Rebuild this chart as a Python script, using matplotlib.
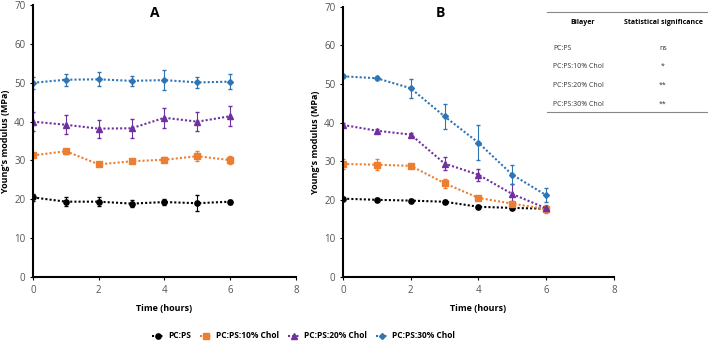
import numpy as np
import matplotlib.pyplot as plt
from matplotlib.lines import Line2D

plt.rcParams['font.family'] = ['Open Sans', 'DejaVu Sans']

hours = [0, 1, 2, 3, 4, 5, 6]
labels = ["PC:PS", "PC:PS:10% Chol", "PC:PS:20% Chol", "PC:PS:30% Chol"]

# panel A
a_vals = [
    [20.5, 19.4, 19.4, 18.9, 19.3, 19.0, 19.4],
    [31.3, 32.4, 29.0, 29.8, 30.2, 31.1, 30.1],
    [40.0, 39.2, 38.2, 38.3, 41.0, 40.0, 41.4],
    [50.0, 50.8, 50.9, 50.5, 50.7, 50.1, 50.3],
]
a_err = [
    [0.8, 1.2, 1.1, 0.9, 0.7, 2.1, 0.5],
    [0.5, 0.6, 0.5, 0.5, 0.6, 1.3, 1.0],
    [2.4, 2.5, 2.3, 2.4, 2.6, 2.5, 2.6],
    [1.5, 1.5, 1.8, 1.2, 2.5, 1.5, 2.0],
]

# panel B
b_vals = [
    [20.3, 20.0, 19.8, 19.5, 18.2, 17.9, 17.7],
    [29.3, 29.1, 28.8, 24.3, 20.5, 19.0, 17.6],
    [39.4, 37.9, 36.9, 29.4, 26.5, 21.5, 17.8],
    [52.0, 51.5, 48.9, 41.6, 34.8, 26.5, 21.2],
]
b_err = [
    [0.4, 0.4, 0.3, 0.4, 0.4, 0.4, 0.3],
    [1.3, 1.5, 0.4, 1.2, 0.5, 0.8, 1.0],
    [0.6, 0.5, 0.4, 1.8, 1.5, 2.5, 0.6],
    [0.5, 0.5, 2.5, 3.2, 4.5, 2.5, 1.8],
]

sig_rows = ["PC:PS", "PC:PS:10% Chol", "PC:PS:20% Chol", "PC:PS:30% Chol"]
sig_vals = ["ns", "*", "**", "**"]

colors = ["black", "#ED7D31", "#7030A0", "#2E75B6"]
markers = ["o", "s", "^", "D"]
msizes = [3.8, 3.8, 3.8, 3.0]
dots = (0, (1.0, 1.0))

fig = plt.figure(figsize=(7.09, 3.42), dpi=100)
axA = fig.add_axes([0.0465, 0.19, 0.371, 0.795])
axB = fig.add_axes([0.4838, 0.19, 0.382, 0.79])

for ax, vals, errs in [(axA, a_vals, a_err), (axB, b_vals, b_err)]:
    for i in range(4):
        ax.errorbar(hours, vals[i], yerr=errs[i], color=colors[i],
                    marker=markers[i], ms=msizes[i], ls=dots,
                    lw=1.5, elinewidth=0.8, capsize=1.5)
    ax.set_xlim(0, 8)
    ax.set_ylim(0, 70)
    ax.set_xticks([0, 2, 4, 6, 8])
    ax.set_yticks(range(0, 71, 10))
    ax.spines['top'].set_visible(False)
    ax.spines['right'].set_visible(False)
    ax.spines['left'].set_linewidth(1.5)
    ax.spines['bottom'].set_linewidth(1.5)
    ax.tick_params(labelsize=7, labelcolor='#555555', color='black', length=2)
    ax.set_xlabel("Time (hours)", fontsize=6.5, fontweight='bold', labelpad=6)
    ax.set_ylabel("Young's modulus (MPa)", fontsize=6.5, fontweight='bold', labelpad=3)

fig.text(155 / 709, 1 - 13 / 342, "A", fontsize=10, fontweight='bold', ha='center', va='center')
fig.text(440 / 709, 1 - 13 / 342, "B", fontsize=10, fontweight='bold', ha='center', va='center')

# significance table
tx0, tx1 = 547 / 709, 707 / 709
for yy in [12, 112]:
    fig.add_artist(Line2D([tx0, tx1], [1 - yy / 342] * 2, color='#888888', lw=0.8))
fig.text(583 / 709, 1 - 22 / 342, "Bilayer", fontsize=5, fontweight='bold', ha='center', va='center')
fig.text(663 / 709, 1 - 22 / 342, "Statistical significance", fontsize=5, fontweight='bold', ha='center', va='center')
for k, (r, s) in enumerate(zip(sig_rows, sig_vals)):
    yy = 1 - (48 + 18.7 * k) / 342
    fig.text(553 / 709, yy, r, fontsize=5, ha='left', va='center', color='#333333')
    fig.text(663 / 709, yy, s, fontsize=5, ha='center', va='center', color='#333333')

handles = [Line2D([], [], color=colors[i], marker=markers[i], ms=msizes[i], ls=dots, lw=1.5)
           for i in range(4)]
fig.legend(handles=handles, labels=labels, loc='center', bbox_to_anchor=(0.428, 1 - 336 / 342),
           ncol=4, frameon=False, handlelength=1.5, handletextpad=0.5, columnspacing=1.0,
           prop={'weight': 'bold', 'size': 6})

fig.savefig("out.png", dpi=100)
